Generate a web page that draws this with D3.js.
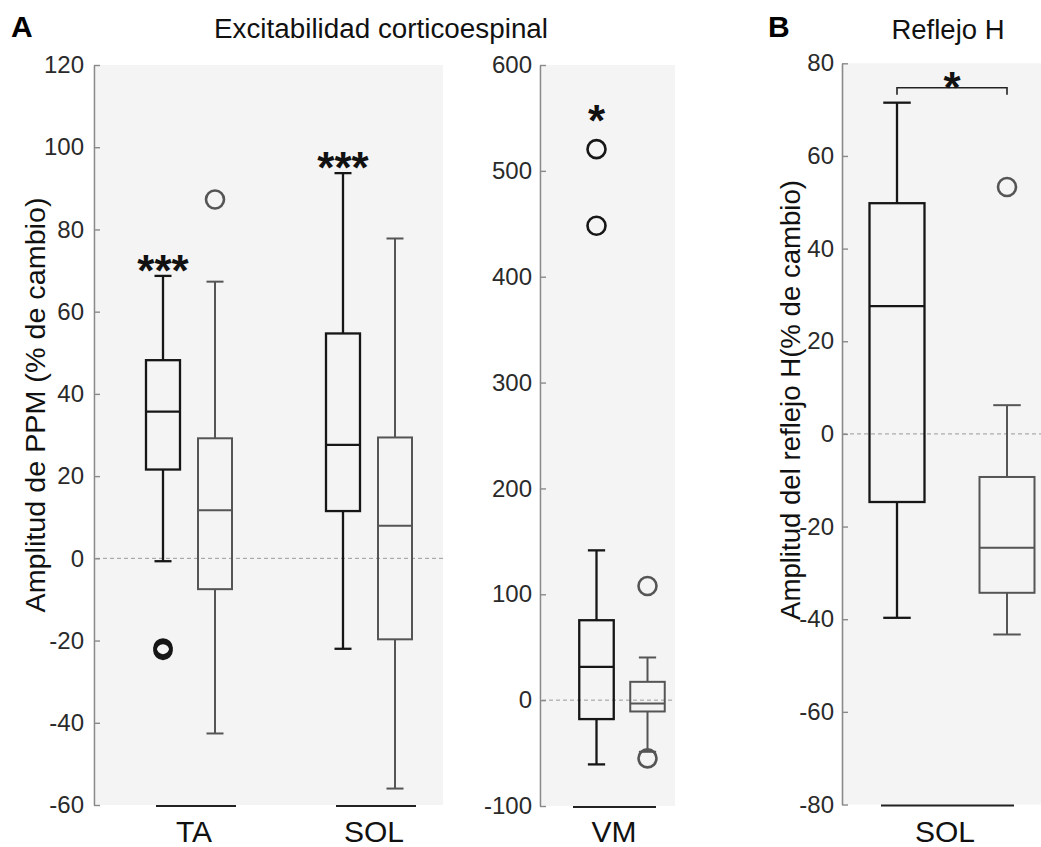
<!DOCTYPE html>
<html><head><meta charset="utf-8">
<script src="https://cdn.jsdelivr.net/npm/d3@7"></script>
<style>
body{margin:0;background:#fff}
text{font-family:Arial,"Liberation Sans",sans-serif}
</style>
</head><body>
<svg id="chart" width="1041" height="847"></svg>
<script>
// ---------- data ----------
const catsA = ["TA", "SOL"];
const catsVM = ["VM"];
const catsB = ["SOL"];
// box stats: [lower whisker, Q1, median, Q3, upper whisker]; first = black group, second = gray group
const statsTA  = [[-0.7, 21.6, 35.7, 48.2, 68.7], [-42.6, -7.5, 11.7, 29.2, 67.3]];
const outTA    = [[-21.8, -22.4], [87.3]];
const statsSOL = [[-22.0, 11.5, 27.6, 54.7, 93.7], [-56.0, -19.7, 7.9, 29.4, 77.8]];
const outSOL   = [[], []];
const statsVM  = [[-60.7, -17.9, 31.4, 75.5, 141.5], [-48.8, -10.7, -3.1, 17.3, 40.3]];
const outVM    = [[520.5, 448.1], [107.8, -55.0]];
const statsH   = [[-39.7, -14.7, 27.6, 49.8, 71.5], [-43.3, -34.3, -24.6, -9.3, 6.2]];
const outH     = [[], [53.3]];
const ticksA  = [-60, -40, -20, 0, 20, 40, 60, 80, 100, 120];
const ticksVM = [-100, 0, 100, 200, 300, 400, 500, 600];
const ticksB  = [-80, -60, -40, -20, 0, 20, 40, 60, 80];
const starsA = ["***", "***"];
const starsVM = ["*"];
const starB = "*";

// ---------- drawing ----------
const svg = d3.select("#chart");
const groupColors = ["#161616", "#555555"];
const groupWidths = [2.3, 2.0];
const STAR_FS = 44;

function drawPanel(cfg) {
  const y = d3.scaleLinear().domain(cfg.yDomain).range(cfg.yRange);
  const x = d3.scalePoint().domain(cfg.cats).range(cfg.xRange);
  const g = d3.scalePoint().domain([0, 1]).range([-cfg.off, cfg.off]);
  const P = svg.append("g");
  P.append("rect").attr("x", cfg.bg[0]).attr("width", cfg.bg[1] - cfg.bg[0])
    .attr("y", y.range()[1]).attr("height", y.range()[0] - y.range()[1])
    .attr("fill", "#f4f4f4");
  P.append("line").attr("x1", cfg.bg[0]).attr("x2", cfg.bg[1])
    .attr("y1", y(0)).attr("y2", y(0))
    .attr("stroke", "#9a9a9a").attr("stroke-width", 1).attr("stroke-dasharray", "4,3");
  const ax = P.append("g").attr("transform", `translate(${cfg.axisX},0)`)
    .call(d3.axisLeft(y).tickValues(cfg.ticks).tickFormat(d => String(d))
      .tickSizeInner(-6).tickSizeOuter(0).tickPadding(cfg.pad));
  ax.select(".domain").attr("stroke", "#8a8a8a").attr("stroke-width", 1.6);
  ax.selectAll(".tick line").attr("stroke", "#8a8a8a").attr("stroke-width", 1.4);
  ax.selectAll(".tick text").attr("font-size", 24).attr("fill", "#2a2a2a")
    .attr("font-family", "Arial, 'Liberation Sans', sans-serif");

  cfg.cats.forEach((c, ci) => {
    const cx = x(c);
    cfg.stats[ci].forEach((s, gi) => {
      const bx = cx + g(gi), col = groupColors[gi], sw = groupWidths[gi];
      const w = cfg.boxW, cap = w * 0.25;
      const G = P.append("g").attr("stroke", col).attr("stroke-width", sw).attr("fill", "none");
      G.append("line").attr("x1", bx).attr("x2", bx).attr("y1", y(s[3])).attr("y2", y(s[4]));
      G.append("line").attr("x1", bx).attr("x2", bx).attr("y1", y(s[1])).attr("y2", y(s[0]));
      G.append("line").attr("x1", bx - cap).attr("x2", bx + cap).attr("y1", y(s[4])).attr("y2", y(s[4]));
      G.append("line").attr("x1", bx - cap).attr("x2", bx + cap).attr("y1", y(s[0])).attr("y2", y(s[0]));
      G.append("rect").attr("x", bx - w / 2).attr("width", w)
        .attr("y", y(s[3])).attr("height", y(s[1]) - y(s[3]));
      G.append("line").attr("x1", bx - w / 2).attr("x2", bx + w / 2).attr("y1", y(s[2])).attr("y2", y(s[2]));
      const heavy = c === "TA" && gi === 0;
      cfg.outs[ci][gi].forEach(v => {
        G.append("circle").attr("cx", bx).attr("cy", y(v)).attr("r", heavy ? 8 : 9)
          .attr("stroke-width", heavy ? 3.6 : 2.6);
      });
    });
    P.append("line").attr("x1", cx + cfg.lineSpan[0]).attr("x2", cx + cfg.lineSpan[1])
      .attr("y1", y.range()[0] + 1).attr("y2", y.range()[0] + 1)
      .attr("stroke", "#222").attr("stroke-width", 2);
    P.append("text").attr("x", cx + cfg.labelShift).attr("y", 842)
      .attr("text-anchor", "middle").attr("font-size", 30).attr("fill", "#111").text(c);
    if (cfg.stars && cfg.stars[ci]) {
      const s0 = cfg.stats[ci][0];
      const top = Math.max(s0[4], ...cfg.outs[ci][0]);
      P.append("text").attr("x", cx + g(0)).attr("y", y(top) - cfg.starGap + 0.57 * STAR_FS)
        .attr("text-anchor", "middle").attr("font-size", STAR_FS).attr("font-weight", "bold")
        .attr("fill", "#111").text(cfg.stars[ci]);
    }
  });
  return { x, y, g };
}

drawPanel({cats: catsA, xRange: [189, 369], off: 26, boxW: 34, yDomain: [-60, 120], yRange: [805, 65],
  bg: [96, 443], axisX: 94, pad: 10, ticks: ticksA, stats: [statsTA, statsSOL], outs: [outTA, outSOL],
  lineSpan: [-33, 47], labelShift: 5, stars: starsA, starGap: 15});
drawPanel({cats: catsVM, xRange: [622, 622], off: 25.5, boxW: 34.5, yDomain: [-100, 600], yRange: [806, 65],
  bg: [542, 675], axisX: 540, pad: 8, ticks: ticksVM, stats: [statsVM], outs: [outVM],
  lineSpan: [-49, 34], labelShift: -8, stars: starsVM, starGap: 38});
const pB = drawPanel({cats: catsB, xRange: [952, 952], off: 55, boxW: 55, yDomain: [-80, 80], yRange: [804.5, 63.3],
  bg: [843, 1041], axisX: 842, pad: 8, ticks: ticksB, stats: [statsH], outs: [outH],
  lineSpan: [-71, 62], labelShift: -7});

// significance bracket in B
{
  const bx0 = pB.x("SOL") + pB.g(0), bx1 = pB.x("SOL") + pB.g(1);
  const yb = 87.7;
  svg.append("path").attr("d", `M${bx0},${yb + 7}V${yb}H${bx1}V${yb + 7}`)
    .attr("fill", "none").attr("stroke", "#222").attr("stroke-width", 1.6);
  svg.append("text").attr("x", (bx0 + bx1) / 2).attr("y", yb - 10 + 0.57 * STAR_FS)
    .attr("text-anchor", "middle").attr("font-size", STAR_FS).attr("font-weight", "bold").attr("fill", "#111").text(starB);
}

// titles and labels
svg.append("text").attr("x", 11).attr("y", 37).attr("font-size", 30).attr("font-weight", "bold").text("A");
svg.append("text").attr("x", 768).attr("y", 37).attr("font-size", 30).attr("font-weight", "bold").text("B");
svg.append("text").attr("x", 381).attr("y", 38).attr("text-anchor", "middle").attr("font-size", 27)
  .attr("textLength", 334).attr("lengthAdjust", "spacingAndGlyphs").attr("fill", "#111").text("Excitabilidad corticoespinal");
svg.append("text").attr("x", 948).attr("y", 39).attr("text-anchor", "middle").attr("font-size", 27)
  .attr("textLength", 113).attr("lengthAdjust", "spacingAndGlyphs").attr("fill", "#111").text("Reflejo H");
svg.append("text").attr("transform", "translate(45,405) rotate(-90)").attr("text-anchor", "middle")
  .attr("font-size", 27).attr("textLength", 415).attr("lengthAdjust", "spacingAndGlyphs").attr("fill", "#111")
  .text("Amplitud de PPM (% de cambio)");
svg.append("text").attr("transform", "translate(800,400) rotate(-90)").attr("text-anchor", "middle")
  .attr("font-size", 27).attr("textLength", 440).attr("lengthAdjust", "spacingAndGlyphs").attr("fill", "#111")
  .text("Amplitud del reflejo H(% de cambio)");
</script>
</body></html>
